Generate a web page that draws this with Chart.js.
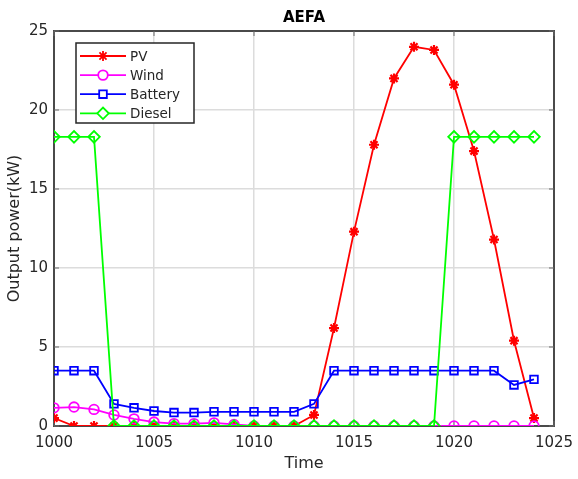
<!DOCTYPE html>
<html>
<head>
<meta charset="utf-8">
<script src="https://cdn.jsdelivr.net/npm/chart.js@4.4.0/dist/chart.umd.min.js"></script>
<style>
  html, body { margin: 0; padding: 0; background: #fff; }
  #wrap { width: 578px; height: 479px; position: relative; }
</style>
</head>
<body>
<div id="wrap"><canvas id="chart"></canvas></div>
<script>
// time steps
const times = [1000, 1001, 1002, 1003, 1004, 1005, 1006, 1007, 1008, 1009, 1010, 1011, 1012,
  1013, 1014, 1015, 1016, 1017, 1018, 1019, 1020, 1021, 1022, 1023, 1024];

// output power (kW)
const pvPower = [0.5, 0, 0, 0, 0, 0, 0, 0, 0, 0, 0, 0, 0,
  0.7, 6.2, 12.3, 17.8, 22.0, 24.0, 23.8, 21.6, 17.4, 11.8, 5.4, 0.5];
const windPower = [1.15, 1.2, 1.05, 0.7, 0.45, 0.25, 0.15, 0.15, 0.2, 0.1, 0, 0, 0,
  0, 0, 0, 0, 0, 0, 0, 0, 0, 0, 0, 0];
const batteryPower = [3.5, 3.5, 3.5, 1.4, 1.15, 0.95, 0.85, 0.85, 0.9, 0.9, 0.9, 0.9, 0.9,
  1.4, 3.5, 3.5, 3.5, 3.5, 3.5, 3.5, 3.5, 3.5, 3.5, 2.6, 2.95];
const dieselPower = [18.3, 18.3, 18.3, 0, 0, 0, 0, 0, 0, 0, 0, 0, 0,
  0, 0, 0, 0, 0, 0, 0, 18.3, 18.3, 18.3, 18.3, 18.3];

const xTicks = [1000, 1005, 1010, 1015, 1020, 1025];
const yTicks = [0, 5, 10, 15, 20, 25];

const chartTitle = "AEFA";
const xLabel = "Time";
const yLabel = "Output power(kW)";

Chart.defaults.font.family = "'DejaVu Sans', Verdana, sans-serif";
Chart.defaults.color = "#262626";

const toPoints = (vals) => vals.map((v, i) => ({ x: times[i], y: v }));

const series = [
  { label: "PV", data: pvPower, color: "#ff0000", style: "star", radius: 5, order: 3 },
  { label: "Wind", data: windPower, color: "#ff00ff", style: "circle", radius: 4.8, order: 2 },
  { label: "Battery", data: batteryPower, color: "#0000ff", style: "rect", radius: 5.4, order: 1 },
  { label: "Diesel", data: dieselPower, color: "#00ff00", style: "rectRot", radius: 5.8, order: 0 },
];

// axes box, inward ticks and title
const boxPlugin = {
  id: "box",
  beforeDatasetsDraw(chart) {
    const { ctx, chartArea: a, scales } = chart;
    ctx.save();
    ctx.strokeStyle = "#4a4a4a";
    ctx.lineWidth = 2;
    ctx.strokeRect(a.left, a.top, a.right - a.left, a.bottom - a.top);
    ctx.lineWidth = 1;
    ctx.strokeStyle = "#6a6a6a";
    ctx.beginPath();
    yTicks.forEach((t) => {
      const y = scales.y.getPixelForValue(t);
      ctx.moveTo(a.left, y); ctx.lineTo(a.left + 5, y);
      ctx.moveTo(a.right, y); ctx.lineTo(a.right - 5, y);
    });
    xTicks.forEach((t) => {
      const x = scales.x.getPixelForValue(t);
      ctx.moveTo(x, a.bottom); ctx.lineTo(x, a.bottom - 5);
      ctx.moveTo(x, a.top); ctx.lineTo(x, a.top + 5);
    });
    ctx.stroke();
    ctx.restore();
  },
  afterDraw(chart) {
    const { ctx, chartArea: a } = chart;
    ctx.save();
    ctx.font = "bold 15px 'DejaVu Sans', Verdana, sans-serif";
    ctx.fillStyle = "#000";
    ctx.textAlign = "center";
    ctx.textBaseline = "middle";
    ctx.fillText(chartTitle, (a.left + a.right) / 2, 18);
    ctx.restore();
  },
};

// matlab style legend inside the plot
const legendPlugin = {
  id: "boxLegend",
  afterDraw(chart) {
    const { ctx } = chart;
    const x0 = 76, y0 = 43, w = 118, h = 80;
    ctx.save();
    ctx.fillStyle = "#fff";
    ctx.fillRect(x0, y0, w, h);
    ctx.strokeStyle = "#262626";
    ctx.lineWidth = 1.5;
    ctx.strokeRect(x0, y0, w, h);
    ctx.font = "13.5px 'DejaVu Sans', Verdana, sans-serif";
    ctx.textBaseline = "middle";
    series.forEach((s, i) => {
      const y = 56 + i * 19.1;
      ctx.strokeStyle = s.color;
      ctx.lineWidth = 1.8;
      ctx.beginPath();
      ctx.moveTo(80, y); ctx.lineTo(126, y);
      ctx.stroke();
      ctx.fillStyle = "#fff";
      Chart.helpers.drawPoint(ctx, {
        pointStyle: s.style, radius: s.radius, rotation: 0, borderWidth: 1.8,
      }, 103, y);
      ctx.fillStyle = "#262626";
      ctx.fillText(s.label, 130, y + 1);
    });
    ctx.restore();
  },
};

new Chart(document.getElementById("chart"), {
  type: "line",
  data: {
    datasets: series.map((s) => ({
      label: s.label,
      data: toPoints(s.data),
      borderColor: s.color,
      backgroundColor: "rgba(0,0,0,0)",
      borderWidth: 1.8,
      pointStyle: s.style,
      pointRadius: s.radius,
      pointBorderWidth: s.style === "star" ? 2.2 : 1.8,
      pointBorderColor: s.color,
      pointBackgroundColor: "rgba(0,0,0,0)",
      tension: 0,
      order: s.order,
    })),
  },
  plugins: [boxPlugin, legendPlugin],
  options: {
    responsive: true,
    maintainAspectRatio: false,
    animation: false,
    layout: { padding: { top: 31, right: 24, left: 0, bottom: 0 } },
    plugins: {
      legend: { display: false },
      title: { display: false },
      tooltip: { enabled: false },
    },
    scales: {
      x: {
        type: "linear",
        min: 1000,
        max: 1025,
        afterFit: (scale) => { scale.height = 53; scale.paddingRight = 0; scale.paddingLeft = 0; },
        afterBuildTicks: (scale) => { scale.ticks = xTicks.map((v) => ({ value: v })); },
        ticks: { font: { size: 15 }, padding: 8, color: "#262626", maxRotation: 0, callback: (v) => String(v) },
        grid: { color: "#dcdcdc", lineWidth: 1.5, drawTicks: false },
        border: { display: false },
        title: { display: true, text: xLabel, font: { size: 16 }, padding: { top: 0, bottom: 6 }, color: "#262626" },
      },
      y: {
        type: "linear",
        min: 0,
        max: 25,
        afterFit: (scale) => { scale.width = 54; },
        afterBuildTicks: (scale) => { scale.ticks = yTicks.map((v) => ({ value: v })); },
        ticks: { font: { size: 15 }, padding: 6, color: "#262626" },
        grid: { color: "#dcdcdc", lineWidth: 1.5, drawTicks: false },
        border: { display: false },
        title: { display: true, text: yLabel, font: { size: 16 }, padding: { top: 5, bottom: 0 }, color: "#262626" },
      },
    },
  },
});
</script>
</body>
</html>
